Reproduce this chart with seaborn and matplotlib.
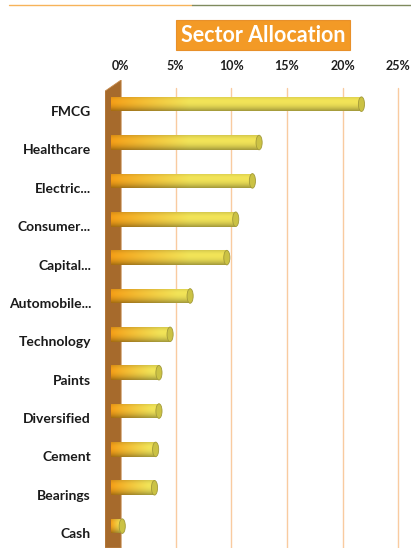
import numpy as np
import pandas as pd
import matplotlib
matplotlib.use("Agg")
import matplotlib.pyplot as plt
import seaborn as sns
from matplotlib.patches import Ellipse, Polygon
from matplotlib.lines import Line2D

sectors = ["FMCG", "Healthcare", "Electric...", "Consumer...", "Capital...",
           "Automobile...", "Technology", "Paints", "Diversified", "Cement",
           "Bearings", "Cash"]
allocation = [22.5, 13.3, 12.7, 11.2, 10.4, 7.1, 5.3, 4.3, 4.3, 4.0, 3.9, 1.0]
xticks = [0, 5, 10, 15, 20, 25]
xtick_labels = ["0%", "5%", "10%", "15%", "20%", "25%"]
title = "Sector Allocation"

df = pd.DataFrame({"sector": sectors, "allocation": allocation})

sns.set_style("white")
plt.rcParams["font.family"] = ["Lato", "DejaVu Sans"]

fig = plt.figure(figsize=(4.11, 5.48), dpi=100)
ax = fig.add_axes([105 / 411, 0.0, (401.5 - 105) / 411, 1 - 80 / 548])

sns.barplot(data=df, x="allocation", y="sector", orient="h", ax=ax,
            width=0.38, errorbar=None, color="#F5A01E")

XLIM = (-1.35, 25.3)
YLIM = (11.39, -0.81)

# 3D depth offset of the bar front faces
depth_dx, depth_dy = -0.8, -0.18

orange = np.array([245, 158, 22]) / 255
yellow = np.array([242, 228, 88]) / 255

for p in list(ax.patches):
    x0 = p.get_x()
    w = p.get_width()
    y0 = p.get_y()
    h = p.get_height()
    p.set_x(x0 + depth_dx)
    p.set_y(y0 + depth_dy)
    p.set_facecolor("none")
    p.set_edgecolor("none")
    bx0, bx1 = x0 + depth_dx, x0 + depth_dx + w
    by0, by1 = y0 + depth_dy, y0 + depth_dy + h
    ncol, nrow = 300, 30
    xs = np.linspace(0, w, ncol)
    span = min(7.0, 0.85 * w)
    t = np.clip(xs / span, 0, 1) ** 0.9
    v = np.linspace(0, 1, nrow)
    b = np.where(v < 0.35, 1 - 0.12 * ((0.35 - v) / 0.35) ** 2,
                 1 - 0.33 * ((v - 0.35) / 0.65) ** 2)
    col = orange[None, :] * (1 - t[:, None]) + yellow[None, :] * t[:, None]
    img = col[None, :, :] * b[:, None, None]
    img = np.clip(img, 0, 1)
    im = ax.imshow(img, extent=(bx0, bx1, by1, by0), origin="upper",
                   aspect="auto", zorder=3, interpolation="bilinear")
    im.set_clip_path(p)
    cap = Ellipse((bx1, (by0 + by1) / 2), width=0.55, height=h,
                  facecolor="#CBC244", edgecolor="#A39A3A", lw=0.6, zorder=4)
    ax.add_patch(cap)

# back wall (brown)
wall = Polygon([(-1.35, -0.52), (0.1, -0.81), (0.1, 11.39), (-1.35, 11.39)],
               closed=True, facecolor="#A66A2C", edgecolor="#C68A4C", lw=0.6,
               zorder=2)
ax.add_patch(wall)

# gridlines
for xv in xticks[1:]:
    ax.axvline(xv, ymin=0, ymax=(548 - 88) / 468, color="#F9CBA0", lw=1.0,
               zorder=1)

ax.set_xlim(*XLIM)
ax.set_ylim(*YLIM)

ax.xaxis.tick_top()
ax.set_xticks(xticks)
ax.set_xticklabels(xtick_labels, fontsize=9, fontweight="bold", color="#1e1e1e")
ax.tick_params(axis="x", length=0, pad=6)
ax.set_yticks(range(len(sectors)))
ax.set_yticklabels(sectors, fontsize=10, fontweight="bold", color="#1a1a1a")
ax.tick_params(axis="y", which="major", length=0, pad=10)
ax.set_yticks(np.arange(0.5, len(sectors) - 0.5, 1.0), minor=True)
ax.tick_params(axis="y", which="minor", length=3.5, width=0.8, color="#F5B060",
               direction="out")
ax.set_xlabel("")
ax.set_ylabel("")
for s in ax.spines.values():
    s.set_visible(False)

fig.text(263 / 411, 1 - 35 / 548, title, ha="center", va="center",
         fontsize=15.5, fontweight="bold", color="white",
         bbox=dict(boxstyle="square,pad=0.2", facecolor="#F39A26",
                   edgecolor="#E8902A", lw=0.8))

fig.add_artist(Line2D([9 / 411, 192 / 411], [1 - 5 / 548, 1 - 5 / 548],
                      color="#F7B35A", lw=1.0, transform=fig.transFigure))
fig.add_artist(Line2D([192 / 411, 1.0], [1 - 5 / 548, 1 - 5 / 548],
                      color="#7F8A5E", lw=1.0, transform=fig.transFigure))

fig.savefig("out.png", dpi=100)
